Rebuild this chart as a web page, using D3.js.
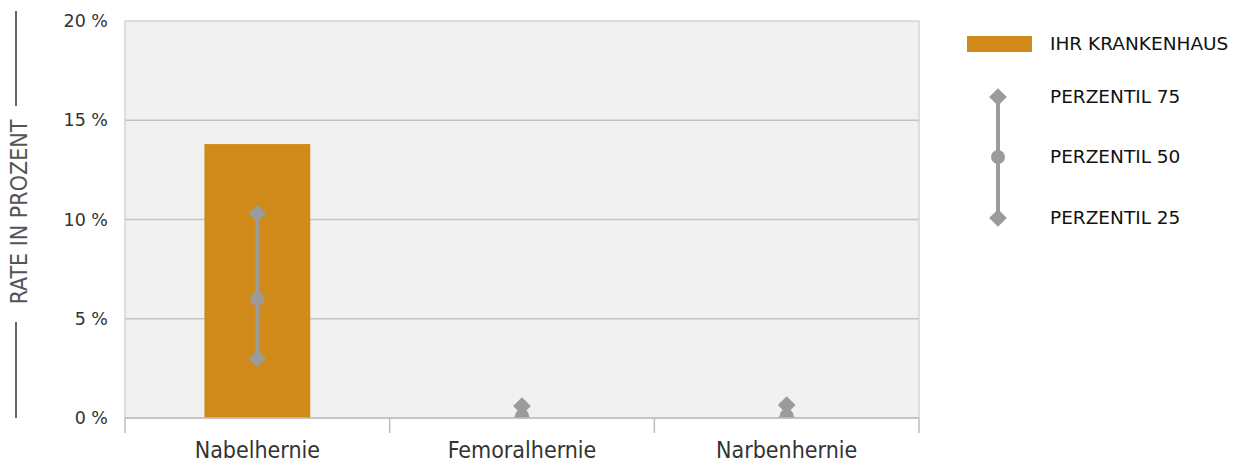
<!DOCTYPE html>
<html>
<head>
<meta charset="utf-8">
<script src="https://cdn.jsdelivr.net/npm/d3@7"></script>
<style>
  body { margin: 0; background: #fff; }
  svg { display: block; }
</style>
</head>
<body>
<div id="chart"></div>
<script>
// DATA
const categories = ["Nabelhernie", "Femoralhernie", "Narbenhernie"];
const hospitalRate = [13.8, 0, 0];
const p75 = [10.3, 0.6, 0.65];
const p50 = [6.0, 0.1, 0.1];
const p25 = [3.0, 0, 0];
const yTicks = [0, 5, 10, 15, 20];
const legendLabels = ["IHR KRANKENHAUS", "PERZENTIL 75", "PERZENTIL 50", "PERZENTIL 25"];

const width = 1237;
const height = 464;
const margin = { top: 21, right: 318, bottom: 46, left: 125 };
const plotW = width - margin.left - margin.right;
const plotH = height - margin.top - margin.bottom;

const barColor = "#d08a1a";
const markColor = "#9b9b9b";
const condensed = "'DejaVu Sans Condensed', 'Liberation Sans Narrow', sans-serif";

const svg = d3.select("#chart")
  .append("svg")
  .attr("width", width)
  .attr("height", height);

const x = d3.scaleBand()
  .domain(categories)
  .range([0, plotW])
  .paddingInner(0)
  .paddingOuter(0);

const y = d3.scaleLinear()
  .domain([0, 20])
  .range([plotH, 0]);

const g = svg.append("g")
  .attr("transform", `translate(${margin.left},${margin.top})`);

// BACKGROUND
g.append("rect")
  .attr("width", plotW)
  .attr("height", plotH)
  .attr("fill", "#f1f1f1")
  .attr("stroke", "#c4c4c4")
  .attr("stroke-width", 1);

// GRID
g.selectAll(".grid")
  .data(yTicks.filter(d => d > 0 && d < 20))
  .enter()
  .append("line")
  .attr("x1", 0)
  .attr("x2", plotW)
  .attr("y1", d => y(d))
  .attr("y2", d => y(d))
  .attr("stroke", "#c4c4c4")
  .attr("stroke-width", 1.5);

// Y AXIS
const yAxis = g.append("g")
  .call(d3.axisLeft(y).tickValues(yTicks).tickFormat(d => d + " %").tickSize(0).tickPadding(17));
yAxis.select(".domain").remove();
yAxis.selectAll("text")
  .style("font-family", "'DejaVu Sans', sans-serif")
  .style("font-size", "17.5px")
  .style("fill", "#333");

// BARS
const clip = svg.append("defs").append("clipPath").attr("id", "plot-clip")
  .append("rect").attr("width", plotW).attr("height", plotH);

const bw = x.bandwidth() * 0.4;
g.selectAll(".bar")
  .data(categories)
  .enter()
  .append("rect")
  .attr("x", d => x(d) + (x.bandwidth() - bw) / 2)
  .attr("y", (d, i) => y(hospitalRate[i]))
  .attr("width", bw)
  .attr("height", (d, i) => plotH - y(hospitalRate[i]))
  .attr("fill", barColor);

// PERCENTILES
const diamond = d3.symbol().type(d3.symbolDiamond2).size(200);
const marks = g.append("g").attr("clip-path", "url(#plot-clip)");
categories.forEach((c, i) => {
  const cx = x(c) + x.bandwidth() / 2;
  marks.append("line")
    .attr("x1", cx).attr("x2", cx)
    .attr("y1", y(p75[i])).attr("y2", y(p25[i]))
    .attr("stroke", markColor).attr("stroke-width", 4);
  marks.append("path")
    .attr("d", diamond)
    .attr("transform", `translate(${cx},${y(p25[i])})`)
    .attr("fill", markColor);
  marks.append("circle")
    .attr("cx", cx).attr("cy", y(p50[i])).attr("r", 7)
    .attr("fill", markColor);
  marks.append("path")
    .attr("d", diamond)
    .attr("transform", `translate(${cx},${y(p75[i])})`)
    .attr("fill", markColor);
});

// BASELINE + X AXIS
g.append("line")
  .attr("x1", 0).attr("x2", plotW)
  .attr("y1", plotH).attr("y2", plotH)
  .attr("stroke", "#bdbdbd").attr("stroke-width", 1.5);

const bounds = categories.map(c => x(c)).concat([plotW]);
g.selectAll(".xtick")
  .data(bounds)
  .enter()
  .append("line")
  .attr("x1", d => d).attr("x2", d => d)
  .attr("y1", plotH).attr("y2", plotH + 15)
  .attr("stroke", "#bdbdbd").attr("stroke-width", 1.5);

g.selectAll(".xlabel")
  .data(categories)
  .enter()
  .append("text")
  .attr("x", d => x(d) + x.bandwidth() / 2)
  .attr("y", plotH + 40)
  .attr("text-anchor", "middle")
  .style("font-family", condensed)
  .style("font-size", "23px")
  .style("fill", "#333")
  .text(d => d);

// Y TITLE
const titleY = 212;
svg.append("text")
  .attr("transform", `translate(27,${titleY}) rotate(-90)`)
  .attr("text-anchor", "middle")
  .style("font-family", condensed)
  .style("font-size", "23px")
  .style("fill", "#555")
  .text("RATE IN PROZENT");
svg.append("line")
  .attr("x1", 16).attr("x2", 16).attr("y1", 11).attr("y2", 106)
  .attr("stroke", "#666").attr("stroke-width", 2);
svg.append("line")
  .attr("x1", 16).attr("x2", 16).attr("y1", 322).attr("y2", 418)
  .attr("stroke", "#666").attr("stroke-width", 2);

// LEGEND
const legend = svg.append("g").attr("transform", "translate(967,0)");
legend.append("rect")
  .attr("x", 0).attr("y", 36)
  .attr("width", 65).attr("height", 16)
  .attr("fill", barColor);
const legY = [44, 97, 157, 218];
legend.append("line")
  .attr("x1", 31).attr("x2", 31)
  .attr("y1", legY[1]).attr("y2", legY[3])
  .attr("stroke", markColor).attr("stroke-width", 4);
legend.append("path").attr("d", diamond)
  .attr("transform", `translate(31,${legY[1]})`).attr("fill", markColor);
legend.append("circle").attr("cx", 31).attr("cy", legY[2]).attr("r", 7).attr("fill", markColor);
legend.append("path").attr("d", diamond)
  .attr("transform", `translate(31,${legY[3]})`).attr("fill", markColor);
legend.selectAll(".ltext")
  .data(legendLabels)
  .enter()
  .append("text")
  .attr("x", 83)
  .attr("y", (d, i) => legY[i])
  .attr("dy", "0.35em")
  .style("font-family", "'DejaVu Sans', sans-serif")
  .style("font-size", "18.5px")
  .style("fill", "#111")
  .text(d => d);
</script>
</body>
</html>
